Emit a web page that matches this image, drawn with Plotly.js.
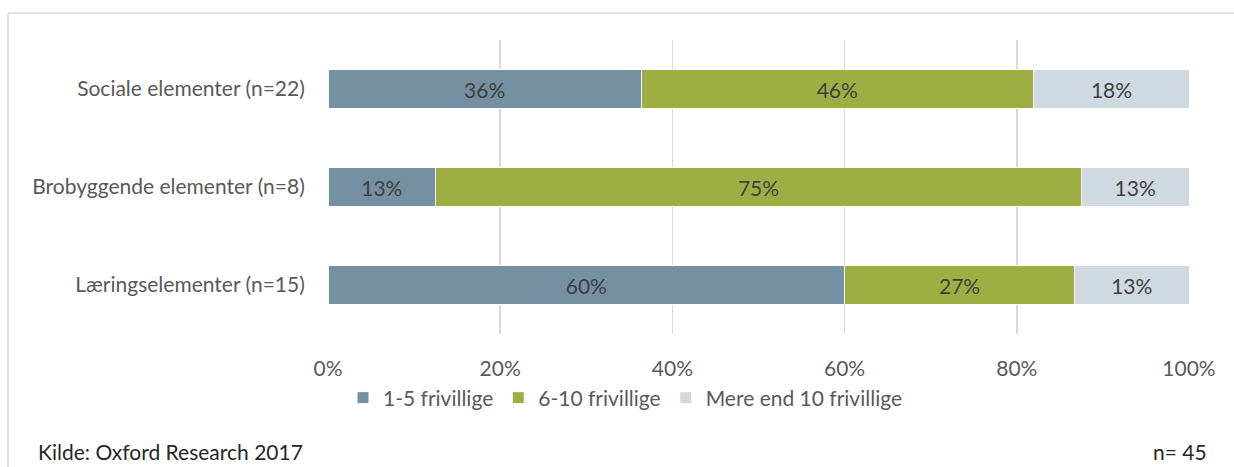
<!DOCTYPE html>
<html>
<head>
<meta charset="utf-8">
<script src="https://cdn.plot.ly/plotly-3.0.1.min.js"></script>
<style>html,body{margin:0;padding:0;background:#fff;}#chart{width:1234px;height:467px;}</style>
</head>
<body>
<div id="chart"></div>
<script>
const categories = ["Sociale elementer (n=22)", "Brobyggende elementer (n=8)", "Læringselementer (n=15)"];
const seriesNames = ["1-5 frivillige", "6-10 frivillige", "Mere end 10 frivillige"];
const v1to5 = [36.4, 12.5, 60.0];
const v6to10 = [45.5, 75.0, 26.7];
const vOver10 = [18.2, 12.5, 13.3];
const labels1to5 = ["36%", "13%", "60%"];
const labels6to10 = ["46%", "75%", "27%"];
const labelsOver10 = ["18%", "13%", "13%"];
const xTickVals = [0, 20, 40, 60, 80, 100];
const xTickText = ["0%", "20%", "40%", "60%", "80%", "100%"];
const sourceText = "Kilde: Oxford Research 2017";
const nText = "n= 45";

const colors = ["#7590a3", "#9daf42", "#d0d8e0"];
const FONT = "Lato, 'Liberation Sans', sans-serif";
const FS = 21;
const values = [v1to5, v6to10, vOver10];
const texts = [labels1to5, labels6to10, labelsOver10];

const traces = seriesNames.map((name, i) => ({
  type: "bar",
  orientation: "h",
  name: name,
  y: categories,
  x: values[i],
  text: texts[i],
  texttemplate: "%{text}",
  textposition: "inside",
  insidetextanchor: "middle",
  textangle: 0,
  constraintext: "none",
  insidetextfont: {family: FONT, size: FS, color: "#404040"},
  marker: {color: colors[i], line: {color: "#ffffff", width: 1}},
  width: 0.39,
  hoverinfo: "skip"
}));

// plot area pixels: x 328..1189, y 40..334
const W = 1234, H = 467, L = 328, R = 1189, T = 40, B = 334;
const px = x => (x - L) / (R - L);
const py = y => (B - y) / (B - T);

const layout = {
  width: W, height: H,
  margin: {l: L, r: W - R, t: T, b: H - B, pad: 0},
  paper_bgcolor: "#ffffff",
  plot_bgcolor: "#ffffff",
  barmode: "stack",
  bargap: 0.6,
  showlegend: true,
  font: {family: FONT, size: FS, color: "#595959"},
  xaxis: {
    range: [0, 100],
    tickvals: xTickVals,
    ticktext: xTickText,
    showgrid: true,
    gridcolor: "#d9d9d9",
    gridwidth: 1.5,
    zeroline: false,
    showline: false,
    ticks: "outside",
    ticklen: 16,
    tickcolor: "rgba(0,0,0,0)",
    tickfont: {family: FONT, size: FS, color: "#595959"},
    fixedrange: true
  },
  yaxis: {
    categoryorder: "array",
    categoryarray: categories,
    autorange: "reversed",
    showgrid: false,
    zeroline: false,
    showline: false,
    ticks: "outside",
    ticklen: 18,
    tickcolor: "rgba(0,0,0,0)",
    tickfont: {family: FONT, size: FS, color: "#595959"},
    fixedrange: true
  },
  legend: {
    orientation: "h",
    x: px(343), xanchor: "left",
    y: py(398), yanchor: "middle",
    font: {family: FONT, size: FS, color: "#595959"},
    traceorder: "normal",
    itemwidth: 30,
    bgcolor: "rgba(0,0,0,0)"
  },
  shapes: [
    {type: "line", xref: "paper", yref: "paper", x0: px(8), x1: px(1234), y0: py(13), y1: py(13), line: {color: "#d9d9d9", width: 1.5}},
    {type: "line", xref: "paper", yref: "paper", x0: px(8), x1: px(8), y0: py(13), y1: py(470), line: {color: "#d9d9d9", width: 1.5}}
  ],
  annotations: [
    {text: sourceText, xref: "paper", yref: "paper", x: px(36), y: py(451), xanchor: "left", yanchor: "middle", showarrow: false, font: {family: FONT, size: 21, color: "#262626"}},
    {text: nText, xref: "paper", yref: "paper", x: px(1209), y: py(451), xanchor: "right", yanchor: "middle", showarrow: false, font: {family: FONT, size: 21, color: "#262626"}}
  ]
};

Plotly.newPlot("chart", traces, layout, {displayModeBar: false, staticPlot: true});
</script>
</body>
</html>
